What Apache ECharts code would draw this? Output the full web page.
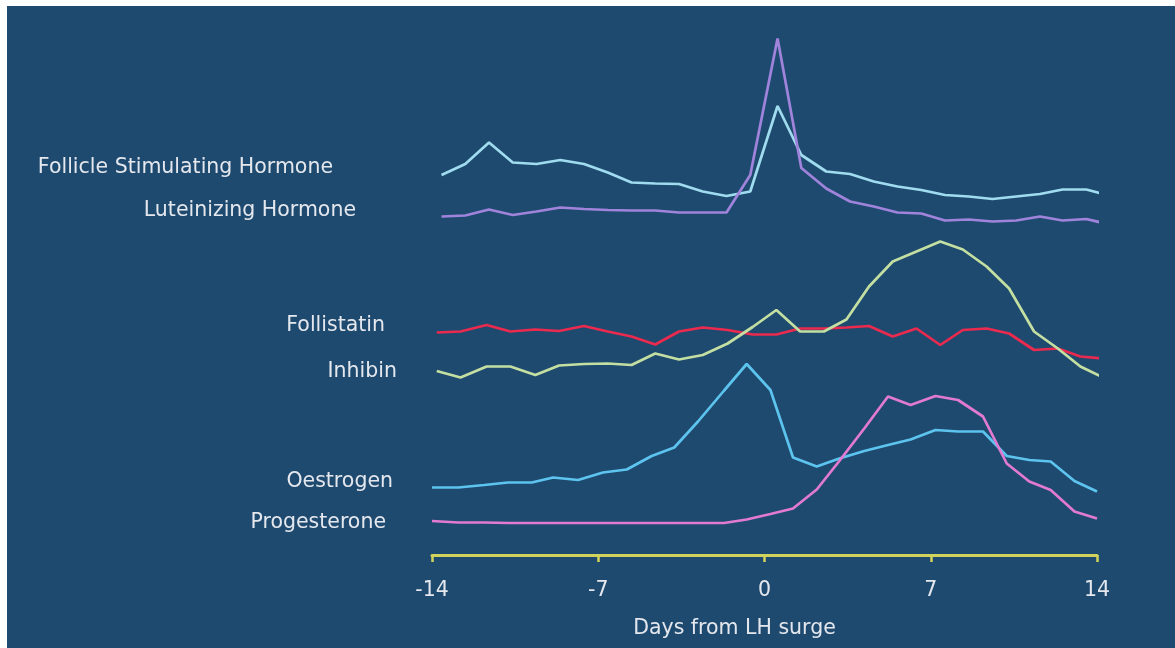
<!DOCTYPE html>
<html>
<head>
<meta charset="utf-8">
<script src="https://cdn.jsdelivr.net/npm/echarts@6/dist/echarts.min.js"></script>
<style>
html,body{margin:0;padding:0;background:#ffffff;}
#chart{width:1175px;height:648px;}
</style>
</head>
<body>
<div id="chart"></div>
<script>
// ---- data (relative levels, arbitrary units) ----
const hormoneNames = ['Follicle Stimulating Hormone', 'Luteinizing Hormone', 'Follistatin', 'Inhibin', 'Oestrogen', 'Progesterone'];
const xTickValues = [-14, -7, 0, 7, 14];
const axisTitle = 'Days from LH surge';

const daysFshLh = [-13.6, -12.6, -11.6, -10.6, -9.6, -8.6, -7.6, -6.6, -5.6, -4.6, -3.6, -2.6, -1.6, -0.6, 0.55, 1.55, 2.6, 3.6, 4.6, 5.6, 6.6, 7.6, 8.6, 9.6, 10.6, 11.6, 12.55, 13.55, 14.35];
const fsh = [76.0, 78.2, 82.5, 78.5, 78.2, 79.0, 78.2, 76.5, 74.5, 74.3, 74.2, 72.7, 71.8, 72.7, 89.8, 80.0, 76.7, 76.2, 74.7, 73.7, 73.0, 72.0, 71.7, 71.2, 71.7, 72.2, 73.1, 73.1, 72.1];
const lh = [67.7, 67.9, 69.1, 68.0, 68.7, 69.5, 69.2, 69.0, 68.9, 68.9, 68.5, 68.5, 68.5, 76.0, 103.3, 77.4, 73.3, 70.7, 69.7, 68.5, 68.3, 66.9, 67.1, 66.7, 66.9, 67.7, 66.9, 67.2, 66.3];

const daysFolInh = [-13.8, -12.8, -11.7, -10.7, -9.65, -8.65, -7.6, -6.6, -5.6, -4.6, -3.6, -2.6, -1.55, -0.5, 0.5, 1.5, 2.5, 3.45, 4.4, 5.4, 6.4, 7.4, 8.35, 9.35, 10.3, 11.35, 12.35, 13.3, 14.25];
const follistatin = [44.5, 44.7, 46.0, 44.7, 45.1, 44.8, 45.8, 44.7, 43.7, 42.1, 44.7, 45.5, 45.0, 44.1, 44.1, 45.3, 45.3, 45.5, 45.8, 43.7, 45.3, 42.0, 45.0, 45.3, 44.3, 41.0, 41.3, 39.7, 39.3];
const inhibin = [36.8, 35.5, 37.7, 37.7, 36.0, 37.9, 38.2, 38.3, 38.0, 40.3, 39.1, 40.0, 42.3, 45.6, 49.0, 44.7, 44.7, 47.1, 53.7, 58.7, 60.7, 62.7, 61.1, 57.7, 53.3, 44.7, 41.3, 37.7, 35.5];

const daysOesProg = [-14, -12.9, -11.8, -10.8, -9.8, -8.9, -7.85, -6.8, -5.8, -4.75, -3.8, -2.8, -1.7, -0.75, 0.25, 1.2, 2.2, 3.15, 4.2, 5.2, 6.15, 7.2, 8.15, 9.2, 10.2, 11.15, 12.05, 13.05, 14];
const oestrogen = [13.5, 13.5, 14.0, 14.5, 14.5, 15.5, 15.0, 16.5, 17.1, 19.8, 21.5, 26.7, 32.9, 38.2, 33.0, 19.5, 17.7, 19.3, 20.8, 22.0, 23.1, 25.0, 24.7, 24.7, 19.8, 19.0, 18.7, 14.8, 12.7];
const progesterone = [6.8, 6.5, 6.5, 6.4, 6.4, 6.4, 6.4, 6.4, 6.4, 6.4, 6.4, 6.4, 6.4, 7.1, 8.2, 9.3, 13.1, 18.8, 25.3, 31.7, 30.0, 31.8, 31.0, 27.7, 18.3, 14.7, 13.0, 8.7, 7.3];

// ---- styling ----
const BG = '#1f4a6f';
const TEXT = '#e4e8ee';
const FONT = '"DejaVu Sans", Verdana, sans-serif';
const AXIS_YELLOW = '#d2d35a';
const colors = ['#a0dcf0', '#a084dc', '#ea2a4e', '#c4dfa2', '#5cc4ee', '#e27ad2'];
const labelPos = [[333, 168], [356, 211], [385, 326], [397, 372], [393, 482], [386, 523]];

const seriesDays = [daysFshLh, daysFshLh, daysFolInh, daysFolInh, daysOesProg, daysOesProg];
const seriesVals = [fsh, lh, follistatin, inhibin, oestrogen, progesterone];

const chart = echarts.init(document.getElementById('chart'), null, {renderer: 'canvas'});

const series = hormoneNames.map((name, i) => ({
  name: name,
  type: 'line',
  data: seriesDays[i].map((d, j) => [d, seriesVals[i][j]]),
  showSymbol: false,
  symbol: 'none',
  clip: false,
  smooth: false,
  lineStyle: {color: colors[i], width: 2.7},
  itemStyle: {color: colors[i]},
  z: 3 + i,
  silent: true,
  animation: false
}));

const graphics = [{
  type: 'rect',
  shape: {x: 7, y: 6, width: 1175, height: 648},
  style: {fill: BG},
  silent: true,
  z: -10
}].concat(hormoneNames.map((name, i) => ({
  type: 'text',
  x: labelPos[i][0],
  y: labelPos[i][1],
  style: {
    text: name,
    fill: TEXT,
    font: '20.5px ' + FONT,
    textAlign: 'right',
    textVerticalAlign: 'middle'
  },
  silent: true,
  z: 10
})));

chart.setOption({
  backgroundColor: '#ffffff',
  animation: false,
  graphic: graphics,
  grid: {left: 432, right: 78, top: 20, bottom: 93, containLabel: false},
  xAxis: {
    type: 'value',
    min: xTickValues[0],
    max: xTickValues[xTickValues.length - 1],
    interval: 7,
    name: axisTitle,
    nameLocation: 'middle',
    nameGap: 63,
    nameTextStyle: {color: TEXT, fontSize: 20.5, fontFamily: FONT, padding: [0, 60, 0, 0]},
    axisLine: {show: true, onZero: false, lineStyle: {color: AXIS_YELLOW, width: 3}},
    axisTick: {show: true, inside: false, length: 7, lineStyle: {color: AXIS_YELLOW, width: 2.5}},
    axisLabel: {color: TEXT, fontSize: 20.5, fontFamily: FONT, margin: 25, showMinLabel: true, showMaxLabel: true},
    splitLine: {show: false}
  },
  yAxis: {
    type: 'value',
    min: 0,
    max: 107,
    show: false,
    splitLine: {show: false}
  },
  series: series
});
</script>
</body>
</html>
